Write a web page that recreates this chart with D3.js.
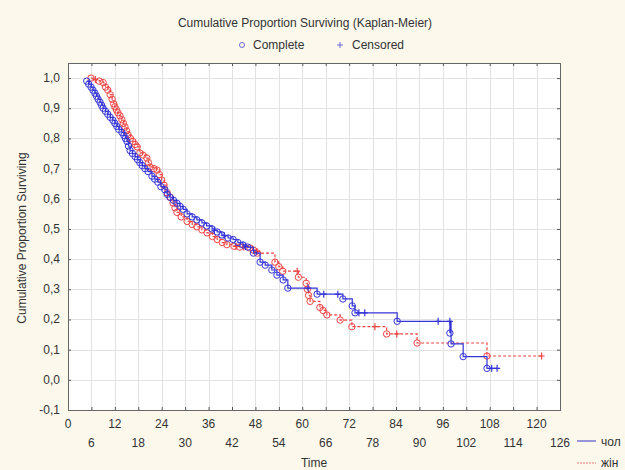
<!DOCTYPE html>
<meta charset="utf-8">
<head>
  <title>kaplan-meier</title>
</head>
<style>
  body { margin: 0; background: #fcf8ec; }
  text { font-family: "Liberation Sans", Arial, sans-serif; fill: #333; }
</style>
<body>
  <svg width="625" height="470"></svg>

  <script src="https://cdnjs.cloudflare.com/ajax/libs/d3/7.8.5/d3.min.js"></script>
  <script>
    // male (чол): complete events [time, survival]
    var maleEvents = [
      [4.8,0.99],[5.3,0.98],[5.9,0.97],[6.4,0.96],[6.9,0.95],[7.3,0.94],[7.7,0.93],[8.2,0.92],
      [8.6,0.91],[9.0,0.90],[9.6,0.89],[10.2,0.88],[10.8,0.87],[11.5,0.86],[12.0,0.85],[12.5,0.84],
      [13.0,0.83],[13.8,0.82],[14.3,0.81],[14.7,0.80],[15.1,0.79],[15.5,0.775],[15.9,0.76],[16.5,0.75],
      [17.2,0.74],[17.8,0.73],[18.4,0.72],[19.0,0.71],[19.7,0.70],[20.5,0.69],[21.5,0.675],[22.2,0.665],
      [23.0,0.655],[23.8,0.64],[24.8,0.63],[25.4,0.615],[26.1,0.605],[27.0,0.595],[27.9,0.585],[28.7,0.575],
      [29.5,0.565],[30.5,0.55],[31.8,0.54],[33.0,0.53],[34.3,0.52],[35.5,0.51],[36.9,0.50],[38.2,0.49],
      [39.4,0.48],[41.0,0.47],[42.3,0.465],[43.5,0.455],[44.8,0.447],[46.0,0.44],[47.5,0.42],[49.2,0.39],
      [50.5,0.38],[52.2,0.364],[53.5,0.347],[55.1,0.331],[56.3,0.304],[63.8,0.284],[70.4,0.268],[72.8,0.245],
      [73.5,0.222],[84.3,0.194],[97.8,0.155],[98.1,0.119],[101.2,0.077],[107.3,0.038]
    ];
    var maleCensored = [
      [37.5,0.495],[40.0,0.478],[45.5,0.443],[61.5,0.304],[65.5,0.284],[69.1,0.284],
      [74.5,0.222],[76.0,0.222],[94.8,0.194],[97.8,0.194],[108.5,0.038],[109.9,0.038]
    ];

    // female (жін): complete events [time, survival]
    var femaleEvents = [
      [5.9,1.0],[8.0,0.99],[9.0,0.985],[9.6,0.97],[10.2,0.96],[10.8,0.945],[11.3,0.93],[11.7,0.915],
      [12.0,0.905],[12.4,0.895],[12.8,0.885],[13.3,0.875],[13.8,0.862],[14.2,0.85],[14.6,0.838],[15.0,0.825],
      [15.4,0.812],[16.0,0.80],[16.6,0.79],[17.2,0.78],[17.7,0.772],[18.4,0.752],[19.2,0.745],[20.2,0.735],
      [20.6,0.72],[21.0,0.705],[22.0,0.70],[22.8,0.695],[23.4,0.68],[24.0,0.662],[24.6,0.645],[25.4,0.62],
      [26.2,0.605],[26.9,0.586],[27.4,0.57],[27.9,0.555],[29.0,0.54],[30.5,0.525],[31.8,0.515],[33.0,0.507],
      [34.3,0.497],[35.6,0.487],[37.0,0.475],[38.2,0.465],[39.5,0.455],[40.7,0.448],[42.5,0.443],[44.0,0.44],
      [46.6,0.437],[47.5,0.43],[48.5,0.42],[53.0,0.39],[54.0,0.375],[55.0,0.36],[59.0,0.34],[61.0,0.32],
      [61.3,0.30],[61.6,0.28],[62.0,0.26],[64.5,0.24],[65.3,0.23],[66.3,0.215],[69.7,0.198],[72.7,0.176],
      [81.6,0.152],[89.4,0.122],[107.3,0.079]
    ];
    var femaleCensored = [
      [7.0,0.995],[43.0,0.442],[45.0,0.44],[48.4,0.425],[58.7,0.36],[78.6,0.176],[84.2,0.152],[121.3,0.079]
    ];

    var xTicksTop = [0, 12, 24, 36, 48, 60, 72, 84, 96, 108, 120];
    var xTicksBottom = [6, 18, 30, 42, 54, 66, 78, 90, 102, 114, 126];
    var yTicks = [-0.1, 0, 0.1, 0.2, 0.3, 0.4, 0.5, 0.6, 0.7, 0.8, 0.9, 1.0];

    var blue = '#3434d8', red = '#ee4444';

    var svg = d3.select('svg');
    var pLeft = 68, pRight = 560, pTop = 63, pBottom = 410;

    var x = d3.scaleLinear().domain([0, 126]).range([pLeft, pRight]);
    var y = d3.scaleLinear().domain([-0.1, 1.05]).range([pBottom, pTop]);
    var fmt = function(d) { return d3.format('.1f')(d).replace('.', ',').replace('−', '-'); };

    // plot area
    svg.append('rect').attr('x', pLeft).attr('y', pTop)
      .attr('width', pRight - pLeft).attr('height', pBottom - pTop).attr('fill', '#fff');

    // grid
    var allX = xTicksTop.concat(xTicksBottom).sort(d3.ascending);
    var grid = svg.append('g').attr('stroke', '#e2e2e2').attr('stroke-width', 1);
    grid.selectAll('.gx').data(allX).enter().append('line')
      .attr('x1', function(d) { return Math.round(x(d)) + 0.5; }).attr('x2', function(d) { return Math.round(x(d)) + 0.5; })
      .attr('y1', pTop).attr('y2', pBottom);
    grid.selectAll('.gy').data(yTicks).enter().append('line')
      .attr('y1', function(d) { return Math.round(y(d)) + 0.5; }).attr('y2', function(d) { return Math.round(y(d)) + 0.5; })
      .attr('x1', pLeft).attr('x2', pRight);

    // axes with inner ticks
    function noDomain(g) { g.select('.domain').remove(); }
    svg.append('g').attr('transform', 'translate(0,' + pBottom + ')')
      .call(d3.axisTop(x).tickValues(allX).tickSize(3).tickFormat('')).call(noDomain);
    svg.append('g').attr('transform', 'translate(0,' + pTop + ')')
      .call(d3.axisBottom(x).tickValues(allX).tickSize(3).tickFormat('')).call(noDomain);
    svg.append('g').attr('transform', 'translate(' + pLeft + ',0)')
      .call(d3.axisRight(y).tickValues(yTicks).tickSize(3).tickFormat('')).call(noDomain);
    svg.append('g').attr('transform', 'translate(' + pRight + ',0)')
      .call(d3.axisLeft(y).tickValues(yTicks).tickSize(3).tickFormat('')).call(noDomain);
    svg.selectAll('.tick line').attr('stroke', '#555');

    svg.append('rect').attr('x', pLeft + 0.5).attr('y', pTop + 0.5)
      .attr('width', pRight - pLeft).attr('height', pBottom - pTop)
      .attr('fill', 'none').attr('stroke', '#666').attr('stroke-width', 1);

    // tick labels
    svg.selectAll('.xl1').data(xTicksTop).enter().append('text')
      .attr('x', function(d) { return x(d); }).attr('y', 428)
      .attr('text-anchor', 'middle').attr('font-size', 12).text(function(d) { return d; });
    svg.selectAll('.xl2').data(xTicksBottom).enter().append('text')
      .attr('x', function(d) { return x(d); }).attr('y', 447)
      .attr('text-anchor', 'middle').attr('font-size', 12).text(function(d) { return d; });
    svg.selectAll('.yl').data(yTicks).enter().append('text')
      .attr('x', 60).attr('y', function(d) { return y(d) + 4; })
      .attr('text-anchor', 'end').attr('font-size', 12).text(fmt);

    // titles
    svg.append('text').attr('x', 305).attr('y', 27).attr('text-anchor', 'middle')
      .attr('font-size', 12).text('Cumulative Proportion Surviving (Kaplan-Meier)');
    svg.append('circle').attr('cx', 242).attr('cy', 45).attr('r', 2.5)
      .attr('fill', 'none').attr('stroke', '#6a6ad6').attr('stroke-width', 1);
    svg.append('text').attr('x', 253).attr('y', 49).attr('font-size', 12).text('Complete');
    svg.append('path').attr('d', 'M337,45h6M340,42v6').attr('stroke', '#6a6ad6');
    svg.append('text').attr('x', 352).attr('y', 49).attr('font-size', 12).text('Censored');
    svg.append('text').attr('transform', 'translate(26,238) rotate(-90)')
      .attr('text-anchor', 'middle').attr('font-size', 12).text('Cumulative Proportion Surviving');
    svg.append('text').attr('x', 314).attr('y', 467).attr('text-anchor', 'middle')
      .attr('font-size', 12).text('Time');

    // curves
    var line = d3.line().curve(d3.curveStepAfter)
      .x(function(d) { return x(d[0]); }).y(function(d) { return y(d[1]); });

    function drawCurve(events, censored, color, dash) {
      var pts = events.concat(censored).sort(function(a, b) { return a[0] - b[0]; });
      svg.append('path').datum(pts).attr('d', line)
        .attr('fill', 'none').attr('stroke', color).attr('stroke-width', 1.2)
        .attr('stroke-dasharray', dash);
      svg.append('g').selectAll('circle').data(events).enter().append('circle')
        .attr('cx', function(d) { return x(d[0]); }).attr('cy', function(d) { return y(d[1]); })
        .attr('r', 3.2).attr('fill', 'none').attr('stroke', color).attr('stroke-width', 1);
      svg.append('g').selectAll('path').data(censored).enter().append('path')
        .attr('d', function(d) {
          var cx = x(d[0]), cy = y(d[1]);
          return 'M' + (cx - 3) + ',' + cy + 'h6M' + cx + ',' + (cy - 3.5) + 'v7';
        })
        .attr('stroke', color).attr('stroke-width', 1.2);
    }
    drawCurve(femaleEvents, femaleCensored, red, '3,2');
    drawCurve(maleEvents, maleCensored, blue, null);

    // series legend
    svg.append('line').attr('x1', 577).attr('x2', 596).attr('y1', 441).attr('y2', 441)
      .attr('stroke', '#5555cc').attr('stroke-width', 1.2);
    svg.append('text').attr('x', 601).attr('y', 446).attr('font-size', 12).text('чол');
    svg.append('line').attr('x1', 577).attr('x2', 596).attr('y1', 463).attr('y2', 463)
      .attr('stroke', '#ee7777').attr('stroke-width', 1).attr('stroke-dasharray', '2,1');
    svg.append('text').attr('x', 601).attr('y', 467).attr('font-size', 12).text('жін');
  </script>
</body>
</html>
